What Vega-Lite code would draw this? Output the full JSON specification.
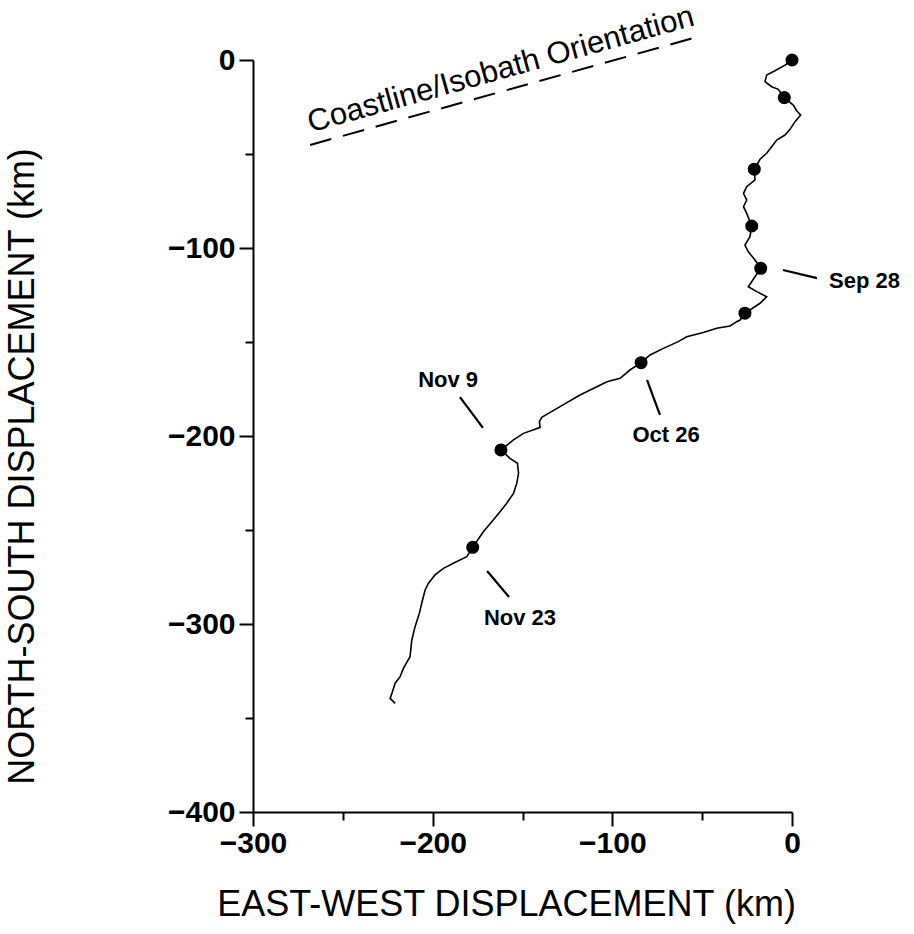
{
  "$schema": "https://vega.github.io/schema/vega-lite/v6.json",
  "autosize": "none",
  "width": 539,
  "height": 752,
  "padding": {"left": 253, "top": 60, "right": 122, "bottom": 122},
  "background": "white",
  "config": {
    "view": {"stroke": null},
    "font": "Liberation Sans",
    "axis": {
      "grid": false,
      "domainColor": "black",
      "domainWidth": 2,
      "tickColor": "black",
      "tickWidth": 2,
      "labelColor": "black",
      "labelFont": "Liberation Sans",
      "labelFontWeight": "bold",
      "labelFontSize": 30,
      "titleColor": "black",
      "titleFont": "Liberation Sans",
      "titleFontWeight": "normal",
      "titleFontSize": 36
    }
  },
  "datasets": {
    "track": [
      {"i": 0, "x": 0, "y": 0},
      {"i": 1, "x": -3.9, "y": -2.7},
      {"i": 2, "x": -9.5, "y": -5.7},
      {"i": 3, "x": -14.1, "y": -8},
      {"i": 4, "x": -15, "y": -11.5},
      {"i": 5, "x": -11.3, "y": -14.2},
      {"i": 6, "x": -7.6, "y": -15.6},
      {"i": 7, "x": -4.3, "y": -20},
      {"i": 8, "x": 0.7, "y": -24},
      {"i": 9, "x": 2.6, "y": -27},
      {"i": 10, "x": 4.8, "y": -29.3},
      {"i": 11, "x": 1.7, "y": -32.8},
      {"i": 12, "x": -1.1, "y": -36.9},
      {"i": 13, "x": -3.9, "y": -39.9},
      {"i": 14, "x": -8.5, "y": -42.6},
      {"i": 15, "x": -11.3, "y": -46.1},
      {"i": 16, "x": -14.1, "y": -49.6},
      {"i": 17, "x": -17.8, "y": -52.8},
      {"i": 18, "x": -21, "y": -58.1},
      {"i": 19, "x": -20.6, "y": -63.8},
      {"i": 20, "x": -25.2, "y": -67.4},
      {"i": 21, "x": -27, "y": -70.9},
      {"i": 22, "x": -25.2, "y": -74.5},
      {"i": 23, "x": -27, "y": -78},
      {"i": 24, "x": -25.2, "y": -81.6},
      {"i": 25, "x": -22.4, "y": -88.3},
      {"i": 26, "x": -23.4, "y": -94},
      {"i": 27, "x": -26.2, "y": -98.4},
      {"i": 28, "x": -24.3, "y": -102},
      {"i": 29, "x": -20.6, "y": -106.4},
      {"i": 30, "x": -17.4, "y": -110.8},
      {"i": 31, "x": -20.6, "y": -115.3},
      {"i": 32, "x": -24.3, "y": -120.6},
      {"i": 33, "x": -19.6, "y": -123.2},
      {"i": 34, "x": -14.1, "y": -125.9},
      {"i": 35, "x": -17.8, "y": -129.4},
      {"i": 36, "x": -26.2, "y": -134.7},
      {"i": 37, "x": -28.9, "y": -138.3},
      {"i": 38, "x": -30.8, "y": -139.2},
      {"i": 39, "x": -34.5, "y": -141.5},
      {"i": 40, "x": -41.9, "y": -142.7},
      {"i": 41, "x": -49.4, "y": -144.9},
      {"i": 42, "x": -58.6, "y": -147.2},
      {"i": 43, "x": -63.3, "y": -149.8},
      {"i": 44, "x": -71.6, "y": -153.4},
      {"i": 45, "x": -79, "y": -156.9},
      {"i": 46, "x": -84, "y": -161},
      {"i": 47, "x": -90.2, "y": -164.9},
      {"i": 48, "x": -95.7, "y": -169.3},
      {"i": 49, "x": -103, "y": -171.1},
      {"i": 50, "x": -118, "y": -178.2},
      {"i": 51, "x": -129.1, "y": -184.4},
      {"i": 52, "x": -139.3, "y": -190.1},
      {"i": 53, "x": -140.6, "y": -192.4},
      {"i": 54, "x": -140.2, "y": -195.4},
      {"i": 55, "x": -143, "y": -196.4},
      {"i": 56, "x": -149.5, "y": -198.6},
      {"i": 57, "x": -155, "y": -202.1},
      {"i": 58, "x": -162, "y": -207.4},
      {"i": 59, "x": -157, "y": -211.9},
      {"i": 60, "x": -152.8, "y": -214.5},
      {"i": 61, "x": -152.2, "y": -219.8},
      {"i": 62, "x": -153.2, "y": -225.2},
      {"i": 63, "x": -155, "y": -230.5},
      {"i": 64, "x": -158.8, "y": -235.8},
      {"i": 65, "x": -162.5, "y": -240.3},
      {"i": 66, "x": -167.1, "y": -245.6},
      {"i": 67, "x": -171.8, "y": -250.9},
      {"i": 68, "x": -177.7, "y": -259.2},
      {"i": 69, "x": -181, "y": -264.2},
      {"i": 70, "x": -188.5, "y": -267.7},
      {"i": 71, "x": -194, "y": -270.4},
      {"i": 72, "x": -198.7, "y": -273.9},
      {"i": 73, "x": -202.4, "y": -278.4},
      {"i": 74, "x": -204.2, "y": -281.9},
      {"i": 75, "x": -206.1, "y": -289},
      {"i": 76, "x": -207.4, "y": -294.3},
      {"i": 77, "x": -209.8, "y": -301.4},
      {"i": 78, "x": -211.6, "y": -308.5},
      {"i": 79, "x": -212.6, "y": -317.4},
      {"i": 80, "x": -216.3, "y": -323.6},
      {"i": 81, "x": -218.1, "y": -328},
      {"i": 82, "x": -220.9, "y": -331.5},
      {"i": 83, "x": -222.7, "y": -336.9},
      {"i": 84, "x": -223.7, "y": -339.6},
      {"i": 85, "x": -221.8, "y": -341.3},
      {"i": 86, "x": -220.9, "y": -342.2}
    ],
    "dots": [
      {"x": 0, "y": 0},
      {"x": -4.3, "y": -20},
      {"x": -21, "y": -58.1},
      {"x": -22.4, "y": -88.3},
      {"x": -17.4, "y": -110.8},
      {"x": -26.2, "y": -134.7},
      {"x": -84, "y": -161},
      {"x": -162, "y": -207.4},
      {"x": -177.7, "y": -259.2}
    ],
    "leaders": [
      {"x": -5.0, "y": -111.7, "x2": 13.9, "y2": -116.0},
      {"x": -80.7, "y": -170.2, "x2": -73.5, "y2": -188.8},
      {"x": -184.8, "y": -179.3, "x2": -172, "y2": -195.7},
      {"x": -169.7, "y": -271.8, "x2": -157.5, "y2": -285.6}
    ],
    "labelsLeft": [
      {"x": 20.6, "y": -117.6, "text": "Sep 28"}
    ],
    "labels": [
      {"x": -70.1, "y": -199.5, "text": "Oct 26"},
      {"x": -191.4, "y": -170.2, "text": "Nov 9"},
      {"x": -151.4, "y": -296.8, "text": "Nov 23"}
    ],
    "coast": [
      {"x": -268.2, "y": -45.2, "x2": -52.9, "y2": 12.2}
    ],
    "coastText": [
      {"x": -162, "y": -5.3, "text": "Coastline/Isobath Orientation"}
    ]
  },
  "layer": [
    {
      "data": {"name": "track"},
      "mark": {"type": "line", "color": "black", "strokeWidth": 1.6, "clip": false},
      "encoding": {
        "x": {
          "field": "x", "type": "quantitative",
          "scale": {"domain": [-300, 0], "nice": false, "zero": false},
          "axis": {
            "title": "EAST-WEST DISPLACEMENT (km)",
            "values": [-300, -250, -200, -150, -100, -50, 0],
            "labelExpr": "datum.value % 100 === 0 ? datum.label : ''",
            "tickSize": {"condition": {"test": "datum.value % 100 === 0", "value": 14}, "value": 8},
            "labelPadding": 2,
            "labelFlush": false,
            "titleX": 253,
            "titleY": 92,
            "titleAlign": "center",
            "titleBaseline": "middle"
          }
        },
        "y": {
          "field": "y", "type": "quantitative",
          "scale": {"domain": [-400, 0], "nice": false, "zero": false},
          "axis": {
            "title": "NORTH-SOUTH DISPLACEMENT (km)",
            "values": [-400, -350, -300, -250, -200, -150, -100, -50, 0],
            "labelExpr": "datum.value % 100 === 0 ? datum.label : ''",
            "tickSize": {"condition": {"test": "datum.value % 100 === 0", "value": 14}, "value": 8},
            "labelPadding": 4,
            "labelFlush": false,
            "titleX": -231,
            "titleY": 406,
            "titleAngle": -90,
            "titleAlign": "center",
            "titleBaseline": "middle"
          }
        },
        "order": {"field": "i", "type": "quantitative"}
      }
    },
    {
      "data": {"name": "dots"},
      "mark": {"type": "circle", "color": "black", "opacity": 1, "size": 170, "clip": false},
      "encoding": {
        "x": {"field": "x", "type": "quantitative"},
        "y": {"field": "y", "type": "quantitative"}
      }
    },
    {
      "data": {"name": "leaders"},
      "mark": {"type": "rule", "color": "black", "strokeWidth": 2.2, "clip": false},
      "encoding": {
        "x": {"field": "x", "type": "quantitative"},
        "y": {"field": "y", "type": "quantitative"},
        "x2": {"field": "x2"},
        "y2": {"field": "y2"}
      }
    },
    {
      "data": {"name": "labels"},
      "mark": {"type": "text", "font": "Liberation Sans", "fontWeight": "bold", "fontSize": 22, "align": "center", "baseline": "middle", "color": "black", "clip": false},
      "encoding": {
        "x": {"field": "x", "type": "quantitative"},
        "y": {"field": "y", "type": "quantitative"},
        "text": {"field": "text"}
      }
    },
    {
      "data": {"name": "labelsLeft"},
      "mark": {"type": "text", "font": "Liberation Sans", "fontWeight": "bold", "fontSize": 22, "align": "left", "baseline": "middle", "color": "black", "clip": false},
      "encoding": {
        "x": {"field": "x", "type": "quantitative"},
        "y": {"field": "y", "type": "quantitative"},
        "text": {"field": "text"}
      }
    },
    {
      "data": {"name": "coast"},
      "mark": {"type": "rule", "color": "black", "strokeWidth": 2, "strokeDash": [22, 12], "clip": false},
      "encoding": {
        "x": {"field": "x", "type": "quantitative"},
        "y": {"field": "y", "type": "quantitative"},
        "x2": {"field": "x2"},
        "y2": {"field": "y2"}
      }
    },
    {
      "data": {"name": "coastText"},
      "mark": {"type": "text", "font": "Liberation Sans", "fontSize": 31, "angle": 344.4, "align": "center", "baseline": "middle", "color": "black", "clip": false},
      "encoding": {
        "x": {"field": "x", "type": "quantitative"},
        "y": {"field": "y", "type": "quantitative"},
        "text": {"field": "text"}
      }
    }
  ]
}
